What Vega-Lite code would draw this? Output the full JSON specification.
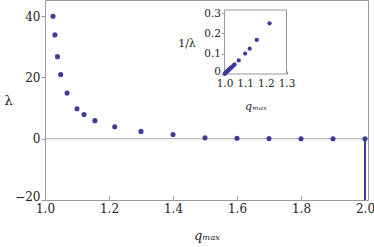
{
  "$schema": "https://vega.github.io/schema/vega-lite/v6.json",
  "width": 323,
  "height": 200,
  "autosize": "none",
  "padding": {"left": 45, "top": 0, "right": 6, "bottom": 47},
  "background": "white",
  "config": {
    "font": "DejaVu Serif",
    "view": {"stroke": "#9a9a9a", "strokeWidth": 1},
    "axis": {"labelFont": "DejaVu Serif", "titleFont": "DejaVu Serif", "labelColor": "#222", "titleColor": "#222", "tickColor": "#9a9a9a", "grid": false, "domain": false, "titleFontWeight": "normal", "labelOverlap": false, "labelBound": false, "labelFlush": false}
  },
  "datasets": {
    "main": [
      {"q": 1.002, "lam": 500}, {"q": 1.006, "lam": 167}, {"q": 1.01, "lam": 100}, {"q": 1.014, "lam": 71}, {"q": 1.018, "lam": 56},
      {"q": 1.025, "lam": 40}, {"q": 1.031, "lam": 33.9}, {"q": 1.039, "lam": 26.8}, {"q": 1.049, "lam": 21},
      {"q": 1.069, "lam": 14.9}, {"q": 1.1, "lam": 9.8}, {"q": 1.122, "lam": 7.9}, {"q": 1.156, "lam": 5.9},
      {"q": 1.218, "lam": 3.9}, {"q": 1.3, "lam": 2.4}, {"q": 1.4, "lam": 1.4}, {"q": 1.5, "lam": 0.3},
      {"q": 1.6, "lam": 0.15}, {"q": 1.7, "lam": 0.05}, {"q": 1.8, "lam": 0.0}, {"q": 1.9, "lam": 0.0}, {"q": 2.0, "lam": 0.0}
    ],
    "inset": [
      {"q": 1.001, "inv": 0.001}, {"q": 1.003, "inv": 0.003}, {"q": 1.005, "inv": 0.005}, {"q": 1.007, "inv": 0.007},
      {"q": 1.009, "inv": 0.009}, {"q": 1.011, "inv": 0.011}, {"q": 1.013, "inv": 0.013}, {"q": 1.015, "inv": 0.015},
      {"q": 1.017, "inv": 0.017}, {"q": 1.019, "inv": 0.019}, {"q": 1.021, "inv": 0.021}, {"q": 1.023, "inv": 0.023},
      {"q": 1.025, "inv": 0.025}, {"q": 1.028, "inv": 0.028}, {"q": 1.031, "inv": 0.0295}, {"q": 1.035, "inv": 0.034},
      {"q": 1.039, "inv": 0.037}, {"q": 1.044, "inv": 0.042}, {"q": 1.049, "inv": 0.047}, {"q": 1.069, "inv": 0.067},
      {"q": 1.1, "inv": 0.101}, {"q": 1.122, "inv": 0.125}, {"q": 1.156, "inv": 0.168}, {"q": 1.218, "inv": 0.25}
    ]
  },
  "layer": [
    {
      "layer": [
        {
          "data": {"values": [{"z": 0}]},
          "mark": {"type": "rule", "color": "#a8a8a8", "strokeWidth": 1},
          "encoding": {"y": {"field": "z", "type": "quantitative"}}
        },
        {
          "data": {"name": "main"},
          "mark": {"type": "circle", "size": 26, "color": "#3d3d99", "opacity": 1, "clip": true},
          "encoding": {
            "x": {"field": "q", "type": "quantitative", "scale": {"domain": [1.0, 2.0094], "nice": false, "zero": false},
              "axis": {"orient": "bottom", "values": [1.0, 1.2, 1.4, 1.6, 1.8, 2.0], "format": ".1f", "labelFontSize": 12, "tickSize": -4, "labelPadding": 7,
                "title": "qₘₐₓ", "titleFontSize": 13, "titleFontStyle": "italic", "titleY": 35, "titleBaseline": "middle"}},
            "y": {"field": "lam", "type": "quantitative", "scale": {"domain": [-20, 45.3], "nice": false, "zero": false},
              "axis": {"orient": "left", "values": [-20, 0, 20, 40], "labelFontSize": 12, "tickSize": 4, "labelPadding": 1,
                "labelBaseline": {"condition": {"test": "datum.value == -20", "value": "alphabetic"}, "value": "middle"},
                "title": "λ", "titleFontSize": 13, "titleAngle": 0, "titleX": -37, "titleY": 100, "titleAlign": "center", "titleBaseline": "middle"}}
          }
        },
        {
          "data": {"values": [{"q": 2.0, "a": 0, "b": -30}]},
          "mark": {"type": "rule", "color": "#3d3d99", "strokeWidth": 2, "clip": true},
          "encoding": {
            "x": {"field": "q", "type": "quantitative"},
            "y": {"field": "a", "type": "quantitative"},
            "y2": {"field": "b"}
          }
        }
      ]
    },
    {
      "layer": [
        {
          "data": {"values": [{"x0": 1.0, "x1": 1.3, "y0": 0, "y1": 0.316}]},
          "mark": {"type": "rect", "fill": "white", "stroke": "#9a9a9a", "strokeWidth": 1},
          "encoding": {
            "x": {"field": "x0", "type": "quantitative"},
            "x2": {"field": "x1"},
            "y": {"field": "y0", "type": "quantitative"},
            "y2": {"field": "y1"}
          }
        },
        {
          "data": {"name": "inset"},
          "mark": {"type": "circle", "size": 18, "color": "#3d3d99", "opacity": 1},
          "encoding": {
            "x": {"field": "q", "type": "quantitative", "scale": {"domain": [1.0, 1.3], "range": [179.5, 241.5], "nice": false, "zero": false},
              "axis": {"orient": "bottom", "offset": -126, "values": [1.0, 1.1, 1.2, 1.3], "format": ".1f", "labelFontSize": 10.5, "tickSize": -3, "labelPadding": 7,
                "title": "qₘₐₓ", "titleFontSize": 11, "titleFontStyle": "italic", "titleY": 32, "titleBaseline": "middle"}},
            "y": {"field": "inv", "type": "quantitative", "scale": {"domain": [0, 0.316], "range": [74, 10], "nice": false, "zero": false},
              "axis": {"orient": "left", "offset": -179.5, "values": [0, 0.1, 0.2, 0.3], "labelExpr": "datum.value == 0 ? '0' : format(datum.value, '.1f')", "labelFontSize": 10.5, "tickSize": 3, "labelPadding": 1,
                "labelBaseline": {"condition": {"test": "datum.value == 0", "value": "alphabetic"}, "value": "middle"},
                "title": "1/λ", "titleFontSize": 11, "titleAngle": 0, "titleX": -38, "titleY": 43, "titleAlign": "center", "titleBaseline": "middle"}}
          }
        }
      ]
    }
  ],
  "resolve": {"scale": {"x": "independent", "y": "independent"}, "axis": {"x": "independent", "y": "independent"}}
}
